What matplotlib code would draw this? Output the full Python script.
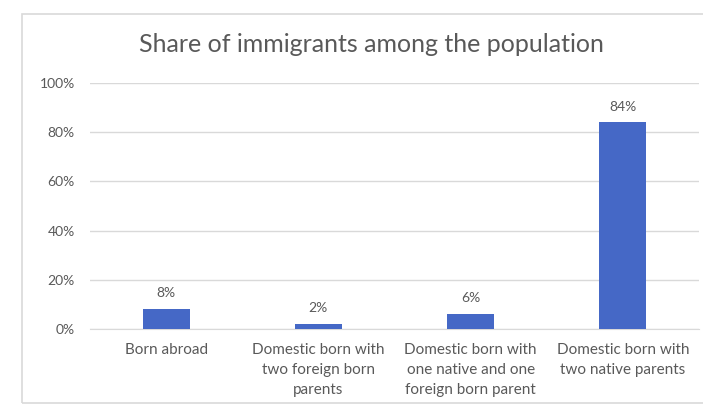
import matplotlib.pyplot as plt
from matplotlib.patches import Rectangle

categories = ["Born abroad",
              "Domestic born with\ntwo foreign born\nparents",
              "Domestic born with\none native and one\nforeign born parent",
              "Domestic born with\ntwo native parents"]
shares = [8, 2, 6, 84]
yticks = [0, 20, 40, 60, 80, 100]

plt.rcParams['font.family'] = ['Lato', 'DejaVu Sans']
gray = '#595959'

fig = plt.figure(figsize=(7.03, 4.12), dpi=100)
W, H = 703, 412
ax = fig.add_axes([90 / W, 1 - 329 / H, 609 / W, 246 / H])

# chart frame
fig.patches.append(Rectangle((22 / W, 1 - 403 / H), 0.99, 389 / H,
                             transform=fig.transFigure, fill=False,
                             edgecolor='#d9d9d9', linewidth=1.2))

x = range(len(categories))
ax.bar(x, shares, width=0.31, color='#4568C6', zorder=3)
for i, v in zip(x, shares):
    ax.text(i, v + 4, f"{v}%", ha='center', va='bottom', fontsize=10, color=gray)

ax.set_xlim(-0.5, len(categories) - 0.5)
ax.set_ylim(0, 100)
ax.set_yticks(yticks)
ax.set_yticklabels([f"{t}%" for t in yticks], fontsize=10, color=gray)
ax.set_xticks(list(x))
ax.set_xticklabels(categories, fontsize=11, color=gray, linespacing=1.55)
ax.tick_params(axis='y', length=0, pad=11)
ax.tick_params(axis='x', length=0, pad=10)
ax.grid(axis='y', color='#d9d9d9', linewidth=1, zorder=0)
for s in ax.spines.values():
    s.set_visible(False)
ax.spines['bottom'].set_visible(True)
ax.spines['bottom'].set_color('#d9d9d9')

fig.text(371 / W, 1 - 45 / H, "Share of immigrants among the population",
         ha='center', va='center', fontsize=18, color=gray)

fig.savefig("out.png", dpi=100)
